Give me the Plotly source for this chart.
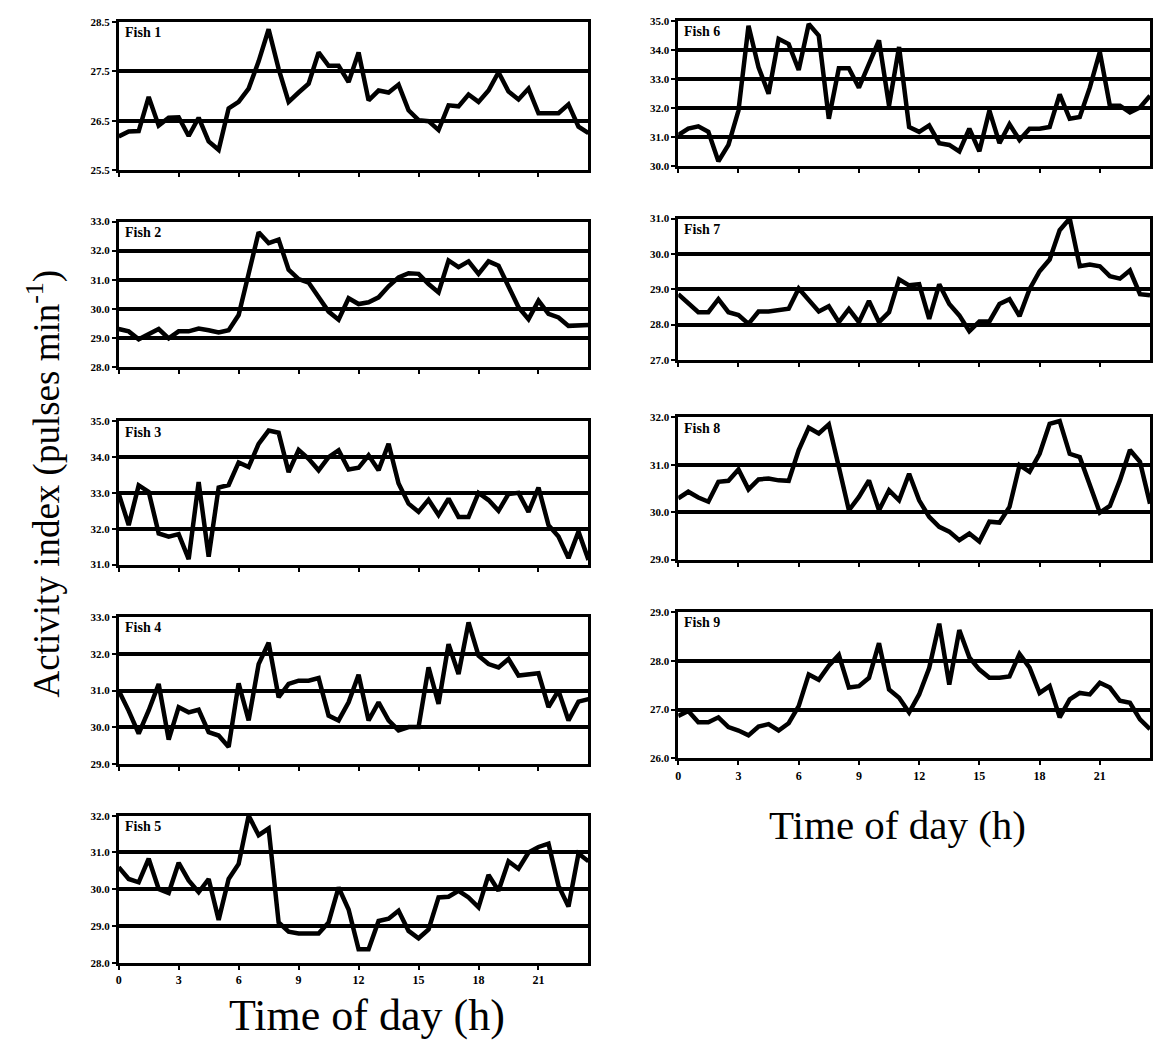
import plotly.graph_objects as go

# Time of day (h), half-hourly samples
hours = [0.0, 0.5, 1.0, 1.5, 2.0, 2.5, 3.0, 3.5, 4.0, 4.5, 5.0, 5.5,
         6.0, 6.5, 7.0, 7.5, 8.0, 8.5, 9.0, 9.5, 10.0, 10.5, 11.0, 11.5,
         12.0, 12.5, 13.0, 13.5, 14.0, 14.5, 15.0, 15.5, 16.0, 16.5, 17.0, 17.5,
         18.0, 18.5, 19.0, 19.5, 20.0, 20.5, 21.0, 21.5, 22.0, 22.5, 23.0, 23.5]

# Activity index (pulses per minute) for each fish
fish1 = [26.18, 26.28, 26.29, 26.98, 26.40, 26.56, 26.57, 26.19, 26.56, 26.08, 25.91, 26.75,
         26.88, 27.15, 27.70, 28.35, 27.55, 26.88, 27.07, 27.25, 27.88, 27.61, 27.61, 27.28,
         27.88, 26.91, 27.11, 27.07, 27.23, 26.71, 26.51, 26.49, 26.31, 26.81, 26.79, 27.03,
         26.88, 27.11, 27.48, 27.09, 26.93, 27.15, 26.65, 26.65, 26.65, 26.83, 26.38, 26.25]
fish2 = [29.30, 29.22, 28.95, 29.13, 29.30, 28.98, 29.22, 29.22, 29.32, 29.26, 29.18, 29.26,
         29.78, 31.20, 32.63, 32.26, 32.38, 31.34, 31.02, 30.90, 30.39, 29.90, 29.62, 30.36,
         30.16, 30.22, 30.39, 30.77, 31.08, 31.22, 31.20, 30.85, 30.56, 31.66, 31.43, 31.63,
         31.20, 31.63, 31.48, 30.79, 30.05, 29.64, 30.28, 29.82, 29.70, 29.41, 29.44, 29.44]
fish3 = [32.98, 32.10, 33.21, 33.03, 31.87, 31.78, 31.85, 31.15, 33.30, 31.22, 33.15, 33.22,
         33.85, 33.72, 34.37, 34.74, 34.68, 33.58, 34.20, 33.95, 33.63, 34.00, 34.19, 33.65,
         33.70, 34.05, 33.63, 34.37, 33.26, 32.70, 32.47, 32.81, 32.38, 32.84, 32.33, 32.33,
         33.00, 32.80, 32.50, 32.97, 33.00, 32.47, 33.15, 32.10, 31.78, 31.18, 31.92, 31.13]
fish4 = [31.00, 30.45, 29.83, 30.46, 31.18, 29.67, 30.55, 30.41, 30.48, 29.87, 29.78, 29.47,
         31.20, 30.19, 31.72, 32.30, 30.82, 31.18, 31.27, 31.27, 31.34, 30.32, 30.19, 30.68,
         31.43, 30.19, 30.68, 30.19, 29.92, 30.01, 30.01, 31.63, 30.64, 32.26, 31.45, 32.85,
         31.95, 31.72, 31.63, 31.86, 31.41, 31.43, 31.47, 30.55, 31.00, 30.19, 30.70, 30.77]
fish5 = [30.60, 30.28, 30.19, 30.83, 30.01, 29.90, 30.72, 30.24, 29.92, 30.28, 29.17, 30.28,
         30.69, 32.00, 31.47, 31.65, 29.10, 28.85, 28.80, 28.80, 28.80, 29.10, 30.05, 29.45,
         28.37, 28.37, 29.14, 29.20, 29.42, 28.87, 28.67, 28.91, 29.78, 29.80, 29.96, 29.78,
         29.51, 30.39, 29.96, 30.76, 30.56, 31.00, 31.15, 31.24, 30.10, 29.53, 30.97, 30.76]
fish6 = [31.07, 31.29, 31.37, 31.18, 30.17, 30.73, 31.91, 34.83, 33.40, 32.49, 34.38, 34.20,
         33.31, 34.89, 34.49, 31.63, 33.37, 33.37, 32.70, 33.48, 34.33, 32.08, 34.10, 31.35,
         31.18, 31.40, 30.79, 30.73, 30.51, 31.29, 30.51, 31.91, 30.79, 31.44, 30.90, 31.29,
         31.29, 31.35, 32.47, 31.63, 31.69, 32.70, 33.93, 32.08, 32.08, 31.85, 32.02, 32.42]
fish7 = [28.86, 28.60, 28.35, 28.35, 28.72, 28.35, 28.27, 28.02, 28.37, 28.37, 28.42, 28.45,
         29.02, 28.70, 28.37, 28.52, 28.07, 28.44, 28.07, 28.67, 28.07, 28.35, 29.28, 29.11,
         29.14, 28.16, 29.14, 28.58, 28.26, 27.81, 28.09, 28.09, 28.58, 28.72, 28.24, 29.00,
         29.51, 29.84, 30.67, 31.00, 29.65, 29.70, 29.65, 29.37, 29.30, 29.53, 28.86, 28.83]
fish8 = [30.29, 30.43, 30.31, 30.22, 30.64, 30.66, 30.90, 30.48, 30.69, 30.71, 30.67, 30.66,
         31.31, 31.78, 31.66, 31.85, 30.95, 30.04, 30.32, 30.67, 30.04, 30.46, 30.25, 30.81,
         30.25, 29.90, 29.69, 29.59, 29.41, 29.55, 29.38, 29.80, 29.78, 30.11, 30.99, 30.85,
         31.23, 31.86, 31.92, 31.23, 31.16, 30.60, 29.99, 30.13, 30.67, 31.31, 31.06, 30.18]
fish9 = [26.87, 26.97, 26.74, 26.74, 26.84, 26.64, 26.57, 26.47, 26.65, 26.70, 26.57, 26.72,
         27.07, 27.72, 27.61, 27.90, 28.12, 27.45, 27.48, 27.65, 28.36, 27.41, 27.24, 26.94,
         27.31, 27.85, 28.76, 27.51, 28.63, 28.07, 27.82, 27.65, 27.65, 27.68, 28.14, 27.86,
         27.34, 27.48, 26.84, 27.21, 27.34, 27.31, 27.55, 27.45, 27.18, 27.14, 26.80, 26.60]

series = [fish1, fish2, fish3, fish4, fish5, fish6, fish7, fish8, fish9]
panel_names = ["Fish 1", "Fish 2", "Fish 3", "Fish 4", "Fish 5",
               "Fish 6", "Fish 7", "Fish 8", "Fish 9"]
y_ranges = [(25.5, 28.5), (28.0, 33.0), (31.0, 35.0), (29.0, 33.0), (28.0, 32.0),
            (30.0, 35.0), (27.0, 31.0), (29.0, 32.0), (26.0, 29.0)]
x_tick_values = [0, 3, 6, 9, 12, 15, 18, 21]
x_tick_labels = ["0", "3", "6", "9", "12", "15", "18", "21"]
x_title = "Time of day (h)"
y_title = "Activity index (pulses min<sup>-1</sup>)"

W, H = 1157, 1052
# plot boxes in pixels: (left, right, top, bottom)
left_col = (116, 587)
right_col = (677, 1150)
boxes = [
    (*left_col, 16, 166),
    (*left_col, 218, 365),
    (*left_col, 420, 565),
    (*left_col, 618, 767),
    (*left_col, 819, 968),
    (*right_col, 15, 162),
    (*right_col, 215, 358),
    (*right_col, 416, 560),
    (*right_col, 613, 761),
]
labelled_x = {4, 8}

serif = "Liberation Serif"
fig = go.Figure()
layout = dict(
    width=W, height=H,
    margin=dict(l=0, r=0, t=0, b=0),
    paper_bgcolor="white", plot_bgcolor="white",
    showlegend=False,
    annotations=[],
)

for i, (ys, name, (ylo, yhi), (l, r, t, b)) in enumerate(zip(series, panel_names, y_ranges, boxes)):
    n = "" if i == 0 else str(i + 1)
    fig.add_trace(go.Scatter(
        x=hours, y=ys, mode="lines",
        line=dict(color="black", width=4.5),
        xaxis="x" + n, yaxis="y" + n, hoverinfo="skip",
    ))
    layout["xaxis" + n] = dict(
        domain=[l / W, r / W], anchor="y" + n,
        range=[0, 23.5],
        showgrid=False, zeroline=False,
        showline=True, linecolor="black", linewidth=3, mirror=True,
        ticks="outside", ticklen=4, tickwidth=2, tickcolor="black",
        tickvals=x_tick_values, ticktext=x_tick_labels,
        showticklabels=i in labelled_x,
        tickfont=dict(family=serif, size=12, color="black", weight="bold"),
    )
    layout["yaxis" + n] = dict(
        domain=[1 - b / H, 1 - t / H], anchor="x" + n,
        range=[ylo, yhi],
        tick0=ylo, dtick=1, tickformat=".1f",
        showgrid=True, gridcolor="black", gridwidth=3.5,
        zeroline=False,
        showline=True, linecolor="black", linewidth=2.5, mirror=True,
        ticks="outside", ticklen=4, tickwidth=2, tickcolor="black",
        tickfont=dict(family=serif, size=11, color="black", weight="bold"),
    )
    layout["annotations"].append(dict(
        text="<b>%s</b>" % name, xref="paper", yref="paper",
        x=(l + 4) / W, y=1 - (t + 11) / H,
        xanchor="left", yanchor="middle", showarrow=False,
        font=dict(family=serif, size=14, color="black"),
    ))

layout["annotations"] += [
    dict(text=x_title, xref="paper", yref="paper",
         x=365 / W, y=1 - 1021 / H,
         xanchor="center", yanchor="middle", showarrow=False,
         font=dict(family=serif, size=44, color="black")),
    dict(text=x_title, xref="paper", yref="paper",
         x=897 / W, y=1 - 828 / H,
         xanchor="center", yanchor="middle", showarrow=False,
         font=dict(family=serif, size=41, color="black")),
    dict(text=y_title, xref="paper", yref="paper",
         x=42 / W, y=1 - 483 / H, textangle=-90,
         xanchor="center", yanchor="middle", showarrow=False,
         font=dict(family=serif, size=37, color="black")),
]

fig.update_layout(**layout)
fig.write_html("out.html")
